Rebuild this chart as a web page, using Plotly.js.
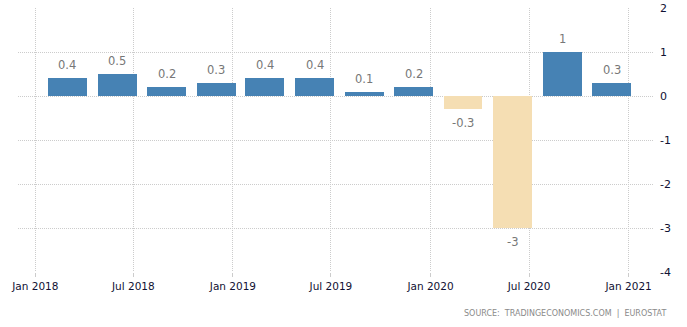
<!DOCTYPE html>
<html>
<head>
<meta charset="utf-8">
<script src="https://cdn.plot.ly/plotly-3.0.1.min.js"></script>
<style>html,body{margin:0;padding:0;background:#fff;}#chart{width:687px;height:327px;}</style>
</head>
<body>
<div id="chart"></div>
<script>
// Quarterly GDP growth (%), bars plotted at quarter-end months
var dates = ["2018-03-01","2018-06-01","2018-09-01","2018-12-01",
             "2019-03-01","2019-06-01","2019-09-01","2019-12-01",
             "2020-03-01","2020-06-01","2020-09-01","2020-12-01"];
var values = [0.4, 0.5, 0.2, 0.3, 0.4, 0.4, 0.1, 0.2, -0.3, -3, 1, 0.3];
var labels = ["0.4","0.5","0.2","0.3","0.4","0.4","0.1","0.2","-0.3","-3","1","0.3"];
var tickDates = ["2018-01-01","2018-07-01","2019-01-01","2019-07-01","2020-01-01","2020-07-01","2021-01-01"];
var tickLabels = ["Jan 2018","Jul 2018","Jan 2019","Jul 2019","Jan 2020","Jul 2020","Jan 2021"];
var yTicks = [2, 1, 0, -1, -2, -3, -4];

var POS = "#4682b4", NEG = "#f5deb3";
var DAY = 86400000;

var trace = {
  type: "bar",
  x: dates,
  y: values,
  width: dates.map(function(){ return 72 * DAY; }),
  marker: { color: values.map(function(v){ return v >= 0 ? POS : NEG; }), line: {width: 0} },
  hoverinfo: "none"
};

var annotations = values.map(function(v, i){
  return {
    x: dates[i], y: v, xref: "x", yref: "y",
    text: labels[i], showarrow: false,
    yshift: v >= 0 ? 13 : -14,
    font: {family: "DejaVu Sans, Verdana, sans-serif", size: 11.5, color: "#777777"}
  };
});
annotations.push({
  xref: "paper", yref: "paper", x: 1.023, y: -0.159, xanchor: "right", yanchor: "middle",
  text: "SOURCE:  TRADINGECONOMICS.COM  |  EUROSTAT", showarrow: false,
  font: {family: "DejaVu Sans, Verdana, sans-serif", size: 8, color: "#8a8a8a"}
});

var layout = {
  width: 687, height: 327,
  margin: {l: 18, r: 34, t: 8, b: 55, pad: 0},
  paper_bgcolor: "#ffffff", plot_bgcolor: "#ffffff",
  showlegend: false,
  font: {family: "DejaVu Sans, Verdana, sans-serif", size: 10.5, color: "#111133"},
  xaxis: {
    type: "date",
    range: ["2017-11-30", "2021-02-15"],
    tickvals: tickDates, ticktext: tickLabels,
    showgrid: true, gridcolor: "#cccccc", griddash: "1px,1px", gridwidth: 1,
    zeroline: false, showline: false,
    ticks: "outside", ticklen: 4, tickcolor: "#cccccc",
    tickfont: {size: 10.5, color: "#111133"},
    fixedrange: true
  },
  yaxis: {
    side: "right",
    range: [-4, 2],
    tickvals: yTicks, ticktext: yTicks.map(String),
    showgrid: true, gridcolor: "#cccccc", griddash: "1px,1px", gridwidth: 1,
    zeroline: false,
    showline: false, ticks: "", ticklabelstandoff: 6,
    tickfont: {size: 11, color: "#111133"},
    fixedrange: true
  },
  annotations: annotations,
  bargap: 0
};

Plotly.newPlot("chart", [trace], layout, {displayModeBar: false, staticPlot: true});
</script>
</body>
</html>
